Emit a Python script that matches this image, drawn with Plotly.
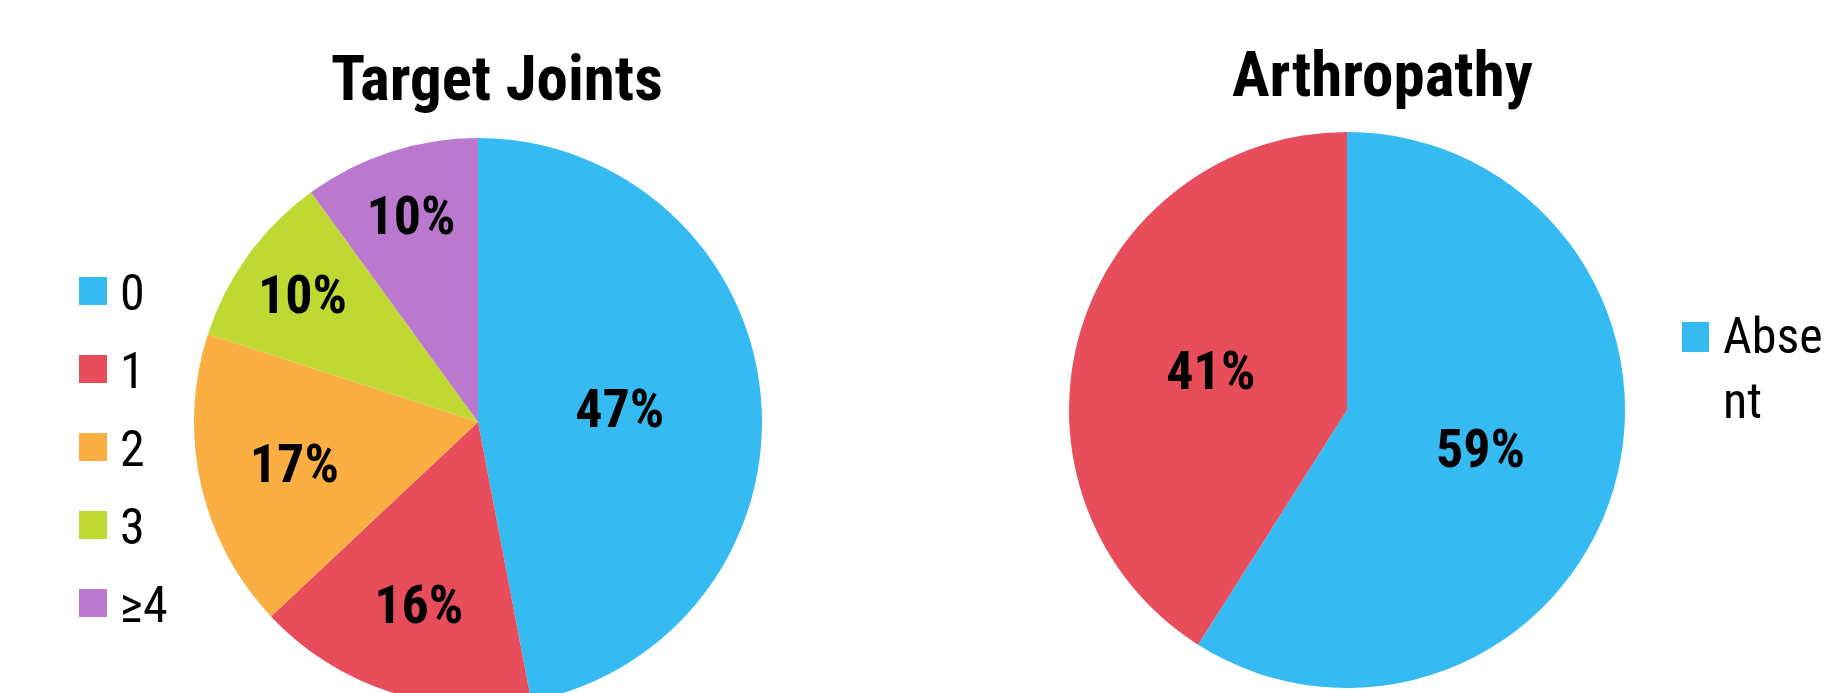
import plotly.graph_objects as go

# ---------------- data ----------------
tj_labels = ["0", "1", "2", "3", "≥4"]
tj_values = [47, 16, 17, 10, 10]
tj_colors = ["#35BBF2", "#E84D5B", "#FBAE42", "#C0D832", "#BA79CF"]

ar_labels = ["Absent", "Present"]
ar_values = [59, 41]
ar_colors = ["#35BBF2", "#E84D5B"]
ar_legend_text = ["Abse<br>nt"]

titles = ["Target Joints", "Arthropathy"]

# ---------------- layout helpers ----------------
W, H = 1830, 720
FONT = "'Roboto Condensed', 'Liberation Sans Narrow', 'Arial Narrow', 'DejaVu Sans Condensed', sans-serif"


def px(x):
    return x / W


def py(y):
    return 1 - y / H


fig = go.Figure()

common = dict(
    sort=False,
    direction="clockwise",
    rotation=0,
    textinfo="percent",
    texttemplate="%{percent:.0%}",
    textposition="inside",
    insidetextorientation="horizontal",
    insidetextfont=dict(family=FONT, size=54, color="black", weight="bold"),
    showlegend=False,
    hoverinfo="label+percent",
)

fig.add_trace(go.Pie(
    labels=tj_labels, values=tj_values,
    marker=dict(colors=tj_colors, line=dict(width=0)),
    domain=dict(x=[px(194), px(762)], y=[py(706), py(138)]),
    **common,
))

fig.add_trace(go.Pie(
    labels=ar_labels, values=ar_values,
    marker=dict(colors=ar_colors, line=dict(width=0)),
    domain=dict(x=[px(1069), px(1625)], y=[py(688), py(132)]),
    **common,
))

annotations = []
shapes = []

# titles
for t, (cx, cy) in zip(titles, [(497, 78), (1382, 75)]):
    annotations.append(dict(
        text=t, x=px(cx), y=py(cy), xref="paper", yref="paper",
        xanchor="center", yanchor="middle", showarrow=False,
        font=dict(family=FONT, size=63, color="black", weight="bold"),
    ))

# left legend (custom, large swatches)
for i, (lab, col) in enumerate(zip(tj_labels, tj_colors)):
    cy = 291 + 78 * i
    shapes.append(dict(
        type="rect", xref="paper", yref="paper",
        x0=px(79), x1=px(107), y0=py(cy + 14), y1=py(cy - 14),
        fillcolor=col, line=dict(width=0),
    ))
    annotations.append(dict(
        text=lab, x=px(118), y=py(cy + 2), xref="paper", yref="paper",
        xanchor="left", yanchor="middle", showarrow=False,
        font=dict(family=FONT, size=50, color="black"),
    ))

# right legend (only first entry visible, wrapped)
shapes.append(dict(
    type="rect", xref="paper", yref="paper",
    x0=px(1682), x1=px(1709), y0=py(352), y1=py(322),
    fillcolor=ar_colors[0], line=dict(width=0),
))
annotations.append(dict(
    text=ar_legend_text[0], x=px(1721), y=py(369), xref="paper", yref="paper",
    xanchor="left", yanchor="middle", align="left", showarrow=False,
    font=dict(family=FONT, size=50, color="black"),
))

fig.update_layout(
    width=W, height=H,
    margin=dict(l=0, r=0, t=0, b=0),
    paper_bgcolor="white", plot_bgcolor="white",
    uniformtext=dict(minsize=54, mode="show"),
    annotations=annotations,
    shapes=shapes,
)

fig.write_html(
    "out.html",
    config={"displayModeBar": False},
    post_script="document.body.style.margin='0';document.body.style.overflow='hidden';",
)
